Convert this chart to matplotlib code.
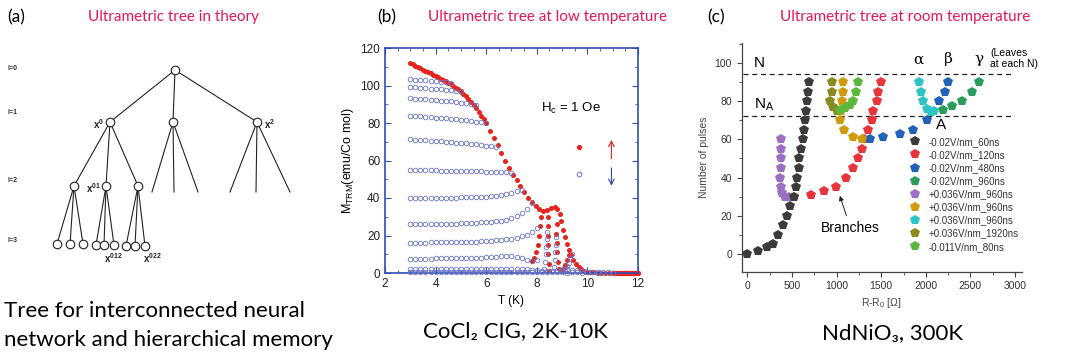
import matplotlib
matplotlib.use('Agg')
import matplotlib.pyplot as plt
from matplotlib.ticker import MultipleLocator

plt.rcParams['font.family'] = ['Liberation Sans', 'DejaVu Sans']
plt.rcParams['mathtext.fontset'] = 'custom'
plt.rcParams['mathtext.rm'] = 'Liberation Sans'
plt.rcParams['mathtext.it'] = 'Liberation Sans:italic'
plt.rcParams['mathtext.bf'] = 'Liberation Sans:bold'

CAP_FONT = ['Lato', 'DejaVu Sans']
PINK = '#e3175e'

# ---------------- (a) tree data (pixel layout of the drawing) ----------------
LEVEL_Y = [70, 122, 186, 244]
LEVEL_NAMES = ['l=0', 'l=1', 'l=2', 'l=3']
LEVEL_LABEL_Y = [68, 113, 180, 240]
ROOT_X = 175
L1_X = [110, 173, 257]
L2_X = [74, 106, 138]
L2_STUBS = [[152, 174, 198], [230, 256, 290]]
STUB_Y = 192
L3_X = [[57, 70, 83], [96, 104, 114], [126, 135, 145]]
TREE_LABELS = [(r'$\mathbf{x^{0}}$', 104, 124, 'right'),
               (r'$\mathbf{x^{2}}$', 264, 124, 'left'),
               (r'$\mathbf{x^{01}}$', 101, 188, 'right'),
               (r'$\mathbf{x^{012}}$', 113, 258, 'center'),
               (r'$\mathbf{x^{022}}$', 152, 258, 'center')]

# ---------------- (b) CoCl2 TRM data ----------------
T_GRID = [3.0, 3.2, 3.4, 3.6, 3.8, 4.0, 4.2, 4.4, 4.6, 4.8, 5.0, 5.2, 5.4, 5.6, 5.8,
          6.0, 6.2, 6.4, 6.6, 6.8, 7.0, 7.2, 7.4, 7.6, 7.8, 8.0, 8.2, 8.4, 8.6, 8.8,
          9.0, 9.2, 9.4, 9.6, 9.8, 10.0, 10.2, 10.4, 10.6, 10.8, 11.0]
blue_branches = [
    [103.4, 103.2, 103.0, 102.8, 102.6, 102.4, 102.1, 101.8, 101.5],
    [99.1, 99.0, 98.8, 98.6, 98.4, 98.2, 98.0, 97.7, 97.4, 97.0, 96.6],
    [93.1, 93.0, 92.8, 92.6, 92.4, 92.2, 92.0, 91.7, 91.5, 91.2, 90.9, 90.6, 90.2, 89.8],
    [83.8, 83.7, 83.5, 83.3, 83.1, 82.9, 82.7, 82.5, 82.2, 82.0, 81.7, 81.4, 81.1, 80.7,
     80.3, 79.9],
    [71.3, 71.2, 71.0, 70.8, 70.6, 70.4, 70.2, 70.0, 69.8, 69.6, 69.4, 69.2, 68.9, 68.6,
     68.3, 68.0, 67.6, 67.2],
    [54.9, 54.9, 54.8, 54.8, 54.7, 54.7, 54.6, 54.6, 54.5, 54.5, 54.4, 54.4, 54.3, 54.3,
     54.2, 54.1, 54.0, 53.9, 53.8, 53.7, 53.6],
    [40.0, 40.0, 40.0, 40.0, 40.0, 40.1, 40.1, 40.1, 40.2, 40.2, 40.3, 40.3, 40.4, 40.5,
     40.6, 40.8, 41.0, 41.3, 41.7, 42.2, 42.8, 43.5, 44.4],
    [26.0, 26.0, 26.0, 26.0, 26.1, 26.1, 26.2, 26.2, 26.3, 26.4, 26.5, 26.6, 26.7, 26.9,
     27.0, 27.2, 27.4, 27.7, 28.0, 28.5, 29.2, 30.2, 31.8, 34.0, 37.5],
    [16.2, 16.2, 16.2, 16.2, 16.3, 16.3, 16.3, 16.4, 16.4, 16.5, 16.5, 16.6, 16.7, 16.8,
     16.9, 17.0, 17.2, 17.4, 17.6, 17.9, 18.3, 18.8, 19.5, 20.5, 22.0, 24.0],
    [7.7, 7.7, 7.7, 7.7, 7.7, 7.8, 7.8, 7.8, 7.8, 7.9, 7.9, 8.0, 8.0, 8.1, 8.2, 8.3, 8.5,
     8.7, 8.9, 9.0, 8.9, 8.5, 7.8, 7.0, 6.5, 6.8],
    [2.0, 2.1, 2.0, 2.0, 2.1, 2.1, 2.0, 2.1, 2.1, 2.1, 2.0, 2.1, 2.1, 2.2, 2.2, 2.2, 2.3,
     2.3, 2.4, 2.4, 2.4, 2.3, 2.2, 2.0, 1.8, 1.5, 1.2, 1.0, 1.2, 1.5, 1.8, 2.0, 1.8, 1.4,
     1.0, 0.7, 0.5, 0.4],
    [0.4, 0.3, 0.4, 0.3, 0.4, 0.3, 0.3, 0.4, 0.3, 0.3, 0.4, 0.3, 0.3, 0.4, 0.3, 0.3, 0.4,
     0.3, 0.3, 0.4, 0.3, 0.3, 0.3, 0.4, 0.3, 0.3, 0.3, 0.4, 0.3, 0.3, 0.3, 0.2, 0.3, 0.3,
     0.2, 0.3, 0.3, 0.2, 0.3, 0.3, 0.2],
]
blue_tails = [
    ([8.30, 8.33, 8.36, 8.38, 8.40, 8.42], [2, 6, 10, 14, 18, 22]),
    ([8.68, 8.70, 8.72, 8.74, 8.76], [3, 7, 11, 15, 19]),
    ([9.05, 9.12, 9.19, 9.26, 9.33, 9.40], [1, 2, 3.5, 5.5, 8, 10]),
]
fc_T = [3.0, 3.1, 3.2, 3.3, 3.4, 3.5, 3.6, 3.7, 3.8, 3.9, 4.0, 4.1, 4.2, 4.3, 4.4, 4.5,
        4.6, 4.7, 4.8, 4.9, 5.0, 5.1, 5.2, 5.3, 5.4, 5.5, 5.6, 5.7, 5.8, 5.9, 6.0,
        6.15, 6.3, 6.45, 6.6, 6.75, 6.9, 7.05, 7.2, 7.35, 7.5, 7.65, 7.8, 7.95, 8.1,
        8.25, 8.4, 8.55, 8.7, 8.8, 8.9, 8.97, 9.05, 9.12, 9.2, 9.28, 9.36, 9.45, 9.55,
        9.65, 9.75, 9.85, 9.95, 10.1, 10.25, 10.4, 10.55, 10.7, 10.85]
fc_M = [112.0, 111.3, 110.6, 109.9, 109.2, 108.5, 107.8, 107.1, 106.5, 105.8, 105.1,
        104.4, 103.7, 103.0, 102.3, 101.5, 100.7, 99.8, 98.9, 98.0, 97.0, 95.6, 94.2,
        92.7, 91.2, 89.6, 87.8, 85.9, 84.0, 82.0, 80.0,
        76.0, 72.2, 68.3, 64.2, 60.0, 56.0, 52.5, 49.4, 46.2, 43.0, 40.2, 38.0, 36.0, 34.0,
        33.0, 33.5, 34.8, 35.0, 34.0, 31.5, 27.5, 23.0, 19.0, 15.5, 12.5, 9.8, 7.0, 4.8,
        3.2, 2.0, 1.2, 0.7, 0.4, 0.3, 0.2, 0.2, 0.1, 0.1]
red_branches = [
    ([7.82, 7.90, 7.97, 8.03, 8.08, 8.13, 8.18], [6.5, 8.0, 11.0, 15.0, 20.0, 25.0, 30.0]),
    ([8.48, 8.47, 8.46, 8.45, 8.45, 8.45, 8.46], [1, 5, 10, 15, 20, 25, 30]),
    ([8.86, 8.83, 8.80, 8.78, 8.77, 8.78], [2, 6, 11, 16, 21, 26]),
    ([8.98, 9.06, 9.13, 9.20, 9.27], [1, 2.5, 4.5, 7, 9.5]),
]
red_bar_T = [11.0, 11.05, 11.1, 11.15, 11.2, 11.25, 11.3, 11.35, 11.4, 11.45, 11.5,
             11.55, 11.6, 11.65, 11.7, 11.75, 11.8, 11.85, 11.9, 11.95, 12.0]
red_bar_M = [0, 0, 0, 0, 0, 0, 0, 0, 0, 0, 0, 0, 0, 0, 0, 0, 0, 0, 0, 0, 0]

# ---------------- (c) NdNiO3 pulse data ----------------
series_c = [
    ('-0.02V/nm_60ns', '#3b3b3b',
     [0, 123, 224, 284, 347, 396, 441, 478, 523, 545, 560, 572, 583, 601, 620, 635, 650,
      657, 665, 676, 695],
     [0, 1.5, 3.5, 5, 10, 15, 20, 25, 30, 35, 40, 45, 50, 55, 60, 65, 70, 75, 80, 85, 90]),
    ('-0.02V/nm_120ns', '#e8343a',
     [516, 710, 863, 990, 1106, 1188, 1244, 1281, 1307, 1356, 1393, 1412, 1449, 1468, 1494],
     [30, 31, 33, 35, 40, 45, 50, 55, 60, 65, 70, 75, 80, 85, 90]),
    ('-0.02V/nm_480ns', '#2062b8',
     [1375, 1524, 1711, 1853, 2010, 2152, 2215, 2253],
     [60, 61, 63, 65, 70, 80, 85, 90]),
    ('-0.02V/nm_960ns', '#2a9d5c',
     [2189, 2297, 2402, 2514, 2592], [75.5, 77.6, 80, 85, 90]),
    ('+0.036V/nm_960ns', '#9c6fc4',
     [374, 377, 377, 374, 370, 374, 385, 420, 460], [60, 55, 50, 45, 40, 35, 32, 30, 30]),
    ('+0.036V/nm_960ns', '#d09a0c',
     [1068, 1068, 1061, 1050, 1038, 1087, 1188, 1281], [90, 85, 80, 75, 70, 65, 61, 60]),
    ('+0.036V/nm_960ns', '#2ec4c4',
     [1920, 1946, 1965, 2010, 2060, 2090], [90, 85, 80, 76, 74.5, 75]),
    ('+0.036V/nm_1920ns', '#8a8a1e',
     [945, 945, 926, 956, 1001], [90, 85, 80, 77, 75]),
    ('-0.011V/nm_80ns', '#5cb83a',
     [1244, 1214, 1188, 1150, 1094, 1040], [90, 85, 80, 78, 76.5, 75.5]),
]
zorders_c = [10, 3, 4, 4, 5, 6, 6, 7, 8]
N_LEVELS = [94, 72]

fig = plt.figure(figsize=(10.8, 3.54), dpi=100)

# ---------------- panel (a) ----------------
ax_a = fig.add_axes([0, 0, 360 / 1080, 1])
ax_a.set_xlim(0, 360)
ax_a.set_ylim(354, 0)
ax_a.axis('off')
lw = 0.8
for x in L1_X:
    ax_a.plot([ROOT_X, x], [LEVEL_Y[0], LEVEL_Y[1]], color='#222', lw=lw, zorder=1)
for x in L2_X:
    ax_a.plot([L1_X[0], x], [LEVEL_Y[1], LEVEL_Y[2]], color='#222', lw=lw, zorder=1)
for parent, stubs in zip(L1_X[1:], L2_STUBS):
    for x in stubs:
        ax_a.plot([parent, x], [LEVEL_Y[1], STUB_Y], color='#222', lw=lw, zorder=1)
for i, (parent, leaves) in enumerate(zip(L2_X, L3_X)):
    for x in leaves:
        ax_a.plot([parent, x], [LEVEL_Y[2], LEVEL_Y[3] + i], color='#222', lw=lw, zorder=1)
nodes_x = [ROOT_X] + L1_X + L2_X + [x for leaves in L3_X for x in leaves]
nodes_y = ([LEVEL_Y[0]] + [LEVEL_Y[1]] * 3 + [LEVEL_Y[2]] * 3
           + [LEVEL_Y[3] + i for i in range(3) for _ in range(3)])
ax_a.scatter(nodes_x, nodes_y, s=38, facecolor='white', edgecolor='#222', lw=0.8, zorder=3)
for name, y in zip(LEVEL_NAMES, LEVEL_LABEL_Y):
    ax_a.text(8, y, name, fontsize=5, fontweight='bold', color='#333', va='center')
for txt, x, y, ha in TREE_LABELS:
    ax_a.text(x, y, txt, fontsize=7, ha=ha, va='center', color='#222')

fig.text(7 / 1080, 1 - 17 / 354, '(a)', fontsize=12.5, family=CAP_FONT, va='center')
fig.text(174 / 1080, 1 - 17 / 354, 'Ultrametric tree in theory', fontsize=11,
         family=CAP_FONT, color=PINK, ha='center', va='center')
fig.text(4 / 1080, 1 - 311 / 354, 'Tree for interconnected neural', fontsize=16,
         family=CAP_FONT, va='center')
fig.text(4 / 1080, 1 - 340 / 354, 'network and hierarchical memory', fontsize=16,
         family=CAP_FONT, va='center')

# ---------------- panel (b) ----------------
ax_b = fig.add_axes([385 / 1080, 81 / 354, 253 / 1080, 225 / 354])
frame_blue = '#2f4fb3'
red = '#e8221c'
open_blue = '#6a74c4'
ax_b.plot(fc_T, fc_M, 'o', color=red, ms=3.6, mew=0, clip_on=False, zorder=2)
for bt, bm in red_branches:
    ax_b.plot(bt, bm, 'o', color=red, ms=3.6, mew=0, clip_on=False, zorder=2)
ax_b.plot(red_bar_T, red_bar_M, 'o', color=red, ms=3.8, mew=0, clip_on=False, zorder=2)
for branch in blue_branches:
    ax_b.plot(T_GRID[:len(branch)], branch, 'o', mfc='none', mec=open_blue, ms=3.3,
              mew=0.6, clip_on=False, zorder=3)
for bt, bm in blue_tails:
    ax_b.plot(bt, bm, 'o', mfc='none', mec=open_blue, ms=3.3, mew=0.6, clip_on=False,
              zorder=3)
ax_b.plot([9.67], [67], 'o', color=red, ms=3.8, mew=0)
ax_b.plot([9.67], [53], 'o', mfc='none', mec=open_blue, ms=3.4, mew=0.7)
ax_b.annotate('', xy=(10.95, 71), xytext=(10.95, 61),
              arrowprops=dict(arrowstyle='->', color=red, lw=0.8, shrinkA=0, shrinkB=0))
ax_b.annotate('', xy=(10.95, 46.5), xytext=(10.95, 56),
              arrowprops=dict(arrowstyle='->', color='#2a4aa8', lw=0.8, shrinkA=0, shrinkB=0))
ax_b.text(8.15, 87.5, r'H$_\mathrm{c}$ = 1 Oe', fontsize=9.5, va='center')
ax_b.set_xlim(2, 12)
ax_b.set_ylim(0, 120)
ax_b.xaxis.set_major_locator(MultipleLocator(2))
ax_b.xaxis.set_minor_locator(MultipleLocator(0.5))
ax_b.yaxis.set_major_locator(MultipleLocator(20))
ax_b.yaxis.set_minor_locator(MultipleLocator(10))
for s in ax_b.spines.values():
    s.set_color(frame_blue)
    s.set_linewidth(1.2)
ax_b.tick_params(which='both', direction='in', top=True, right=True, color=frame_blue,
                 labelsize=8.5, labelcolor='#222')
ax_b.tick_params(which='major', length=4, width=0.8)
ax_b.tick_params(which='minor', length=2, width=0.6)
ax_b.set_xlabel('T (K)', fontsize=8.5, labelpad=4)
ax_b.set_ylabel(r'M$_\mathrm{TRM}$(emu/Co mol)', fontsize=9, labelpad=3)

fig.text(377 / 1080, 1 - 17 / 354, '(b)', fontsize=12.5, family=CAP_FONT, va='center')
fig.text(547 / 1080, 1 - 17 / 354, 'Ultrametric tree at low temperature', fontsize=11,
         family=CAP_FONT, color=PINK, ha='center', va='center')
fig.text(515 / 1080, 1 - 331 / 354, 'CoCl\u2082 CIG, 2K-10K', fontsize=16,
         family=CAP_FONT, ha='center', va='center')

# ---------------- panel (c) ----------------
ax_c = fig.add_axes([741.7 / 1080, 82.3 / 354, 280 / 1080, 228.7 / 354])
for (label, color, xs, ys), z in zip(series_c, zorders_c):
    ax_c.plot(xs, ys, 'p', color=color, ms=7.5, mew=0, label=label, zorder=z)
for lvl in N_LEVELS:
    ax_c.axhline(lvl, xmin=0.006, xmax=0.963, color='#222', lw=0.9, ls=(0, (4, 3)), zorder=1)
ax_c.text(70, 100, 'N', fontsize=11, va='center')
ax_c.text(70, 78, r'N$_\mathrm{A}$', fontsize=11, va='center')
ax_c.text(1916, 102, '\u03b1', fontsize=11, ha='center', va='center', family='DejaVu Serif')
ax_c.text(2252, 102, '\u03b2', fontsize=11, ha='center', va='center', family='DejaVu Serif')
ax_c.text(2600, 102, '\u03b3', fontsize=11, ha='center', va='center', family='DejaVu Serif')
ax_c.text(2720, 102.5, '(Leaves\nat each N)', fontsize=7.5, va='center', linespacing=1.1)
ax_c.text(2110, 67.5, 'A', fontsize=11, va='center')
ax_c.text(1150, 13.5, 'Branches', fontsize=10, ha='center', va='center')
ax_c.annotate('', xy=(1035, 30.5), xytext=(1110, 20),
              arrowprops=dict(arrowstyle='-|>', color='#222', lw=0.7, mutation_scale=7,
                              shrinkA=0, shrinkB=0))
ax_c.set_xlim(-65, 3075)
ax_c.set_ylim(-9.3, 110.5)
ax_c.xaxis.set_major_locator(MultipleLocator(500))
ax_c.xaxis.set_minor_locator(MultipleLocator(250))
ax_c.yaxis.set_major_locator(MultipleLocator(20))
ax_c.yaxis.set_minor_locator(MultipleLocator(10))
ax_c.spines['top'].set_visible(False)
ax_c.spines['right'].set_visible(False)
for s in ['left', 'bottom']:
    ax_c.spines[s].set_color('#444')
    ax_c.spines[s].set_linewidth(0.9)
ax_c.tick_params(which='both', direction='out', color='#444', labelsize=7.5,
                 labelcolor='#333')
ax_c.tick_params(which='major', length=3.5, width=0.8)
ax_c.tick_params(which='minor', length=2, width=0.6)
ax_c.set_xlabel('R-R$_0$ [$\\Omega$]', fontsize=7.5, color='#444', labelpad=3)
ax_c.set_ylabel('Number of pulses', fontsize=7.5, color='#444', labelpad=4)
ax_c.legend(loc='upper left', bbox_to_anchor=(0.6, 0.59), frameon=False, fontsize=7,
            handlelength=1.0, handletextpad=0.9, labelspacing=0.32, borderaxespad=0,
            borderpad=0, markerscale=0.95, labelcolor='#333')

fig.text(707 / 1080, 1 - 17 / 354, '(c)', fontsize=12.5, family=CAP_FONT, va='center')
fig.text(905 / 1080, 1 - 17 / 354, 'Ultrametric tree at room temperature', fontsize=11,
         family=CAP_FONT, color=PINK, ha='center', va='center')
fig.text(893 / 1080, 1 - 333 / 354, 'NdNiO\u2083, 300K', fontsize=16,
         family=CAP_FONT, ha='center', va='center')

fig.savefig('out.png', dpi=100)
